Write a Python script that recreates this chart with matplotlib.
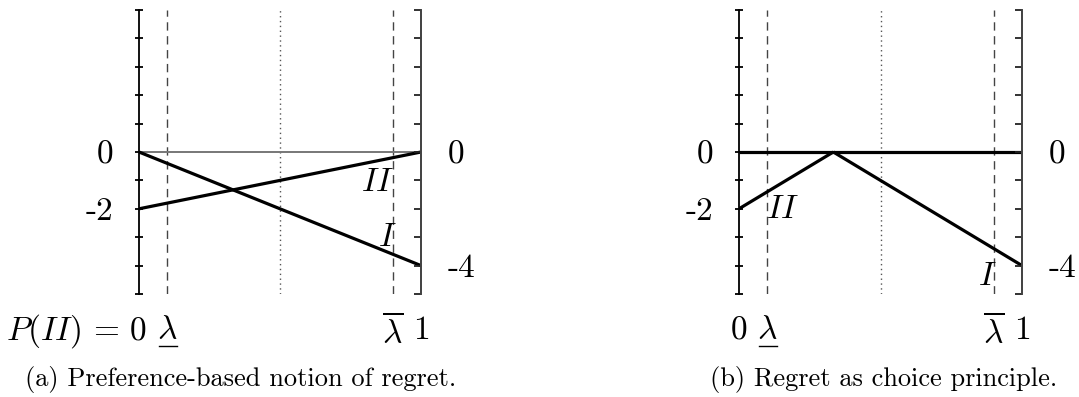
import matplotlib
matplotlib.use("Agg")
import matplotlib.pyplot as plt

plt.rcParams["font.family"] = "serif"
plt.rcParams["font.serif"] = ["cmr10"]
plt.rcParams["mathtext.fontset"] = "cm"
plt.rcParams["axes.unicode_minus"] = False

# probability of state II on the x axis, payoffs on the y axis
p = [0, 1]
payoff_I = [0, -4]
payoff_II = [-2, 0]

# regret as choice principle: kink where both acts tie
p_kink = [0, 1 / 3, 1]
regret_II = [-2, 0]
regret_I = [0, -4]

lam_low, lam_high, p_mid = 0.1, 0.9, 0.5
yticks = list(range(-5, 6))
left_labels = {0: "0", -2: "-2"}
right_labels = {0: "0", -4: "-4"}

captions = ["(a) Preference-based notion of regret.",
            "(b) Regret as choice principle."]
caption_x = [0.36, 0.51]
x_left_labels = [r"$P(II)\,=\,0$", "0"]

# positions of the II / I labels in each panel
label_II = [(0.847, -1.06), (0.156, -2.04)]
label_I = [(0.88, -3.0), (0.877, -4.37)]

FS = 24
W, H = 1079, 397
fig = plt.figure(figsize=(W / 100, H / 100), dpi=100)

axes_px = [(139, 282), (739, 283)]
for k, (x0, w) in enumerate(axes_px):
    ax = fig.add_axes([x0 / W, (H - 294) / H, w / W, 284 / H])
    ax.set_xlim(0, 1)
    ax.set_ylim(-5, 5)
    for s in ["top", "bottom"]:
        ax.spines[s].set_visible(False)
    ax.spines["left"].set_linewidth(1.3)
    ax.spines["right"].set_linewidth(1.3)
    ax.spines["right"].set_color("#444444")
    ax.set_xticks([])
    ax.set_yticks(yticks)
    ax.set_yticklabels([left_labels.get(t, "") for t in yticks])
    ax.tick_params(axis="y", direction="inout", length=6, width=1.3,
                   labelsize=FS, pad=15.5, left=True, right=False)

    rax = ax.twinx()
    rax.set_ylim(-5, 5)
    for s in ["top", "bottom", "left"]:
        rax.spines[s].set_visible(False)
    rax.spines["right"].set_linewidth(1.3)
    rax.spines["right"].set_color("#444444")
    rax.set_yticks(yticks)
    rax.set_yticklabels([right_labels.get(t, "") for t in yticks])
    rax.tick_params(axis="y", direction="in", length=5, width=1.3,
                    labelsize=FS, pad=19, color="#222222")

    # reference lines
    for xv in [lam_low, lam_high]:
        ax.axvline(xv, color="#444444", lw=1.0, ls=(0, (6, 4)))
    ax.axvline(p_mid, color="#555555", lw=1.0, ls=(0, (1, 2.5)))

    if k == 0:
        ax.plot(p, [0, 0], color="#777777", lw=1.4)
        ax.plot(p, payoff_I, color="black", lw=2.3, solid_capstyle="butt")
        ax.plot(p, payoff_II, color="black", lw=2.3, solid_capstyle="butt")
    else:
        ax.plot(p, [0, 0], color="black", lw=2.3, solid_capstyle="butt")
        ax.plot(p_kink[:2], regret_II, color="black", lw=2.3, solid_capstyle="butt")
        ax.plot(p_kink[1:], regret_I, color="black", lw=2.3, solid_capstyle="butt")
    ax.text(*label_II[k], r"$II$", fontsize=FS, ha="center", va="center")
    ax.text(*label_I[k], r"$I$", fontsize=FS, ha="center", va="center")

    # x axis labels below the plot
    ax.text(0.028, -6.3, x_left_labels[k], fontsize=FS, ha="right", va="center")
    ax.text(lam_low, -6.3, r"$\lambda$", fontsize=FS, ha="center", va="center")
    ax.plot([lam_low - 0.03, lam_low + 0.033], [-6.83, -6.83], color="black",
            lw=1.0, clip_on=False)
    ax.text(lam_high, -6.3, r"$\overline{\lambda}$", fontsize=FS, ha="center", va="center")
    ax.text(1.0, -6.3, "1", fontsize=FS, ha="center", va="center")

    ax.text(caption_x[k], -8.0, captions[k], fontsize=19, ha="center", va="center")

fig.savefig("out.png", dpi=100)
